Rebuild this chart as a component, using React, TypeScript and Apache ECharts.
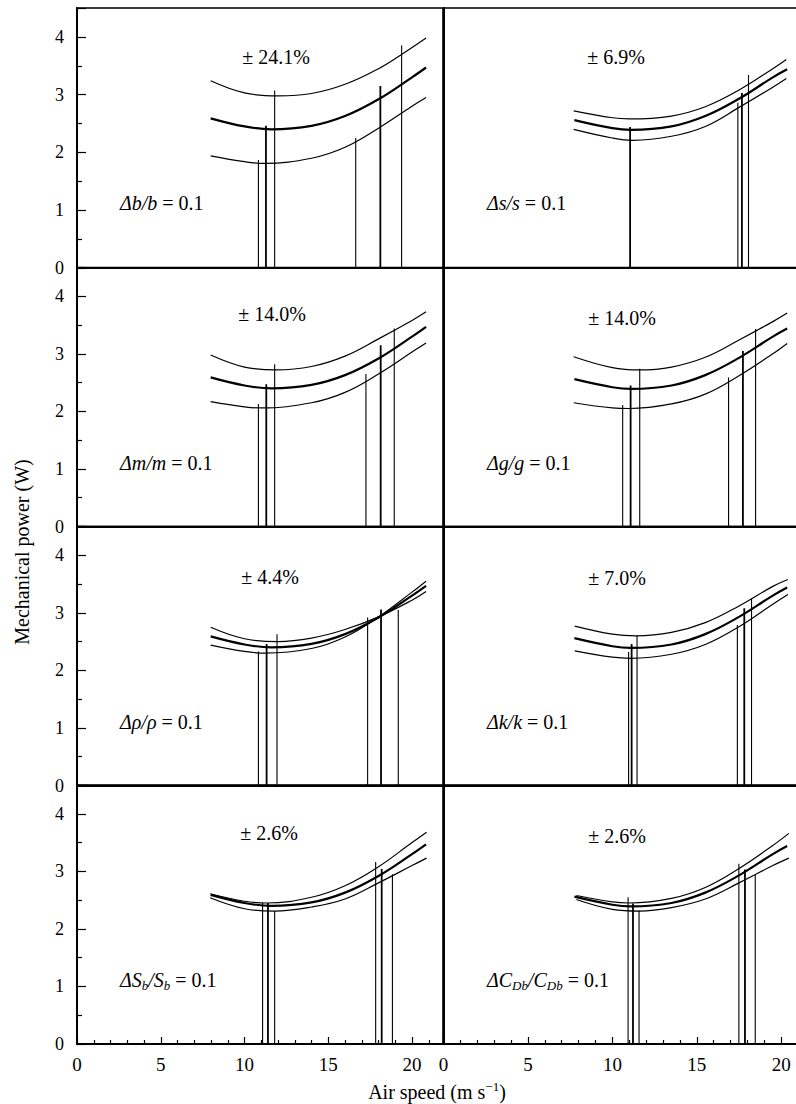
import React, { useEffect, useRef } from 'react';
import * as echarts from 'echarts';

const FONT = 'Liberation Serif';

// ---- data ----
const leftMiddle = [[7.98, 2.59], [10, 2.45], [11.6, 2.40], [14, 2.46], [16, 2.63], [18, 2.92], [20, 3.30], [20.84, 3.47]];
const rightMiddle = [[7.75, 2.56], [10, 2.42], [11.1, 2.39], [13.5, 2.45], [15.5, 2.63], [17.5, 2.93], [19.5, 3.30], [20.35, 3.44]];

// Δb/b
const p1Upper = [[7.98, 3.24], [10, 3.03], [12, 2.98], [14, 3.02], [16, 3.18], [18, 3.45], [19.4, 3.70], [20.84, 3.98]];
const p1Lower = [[7.98, 1.94], [10, 1.84], [11.2, 1.81], [14, 1.90], [16, 2.09], [18, 2.42], [20, 2.80], [20.84, 2.95]];
const p1Min = [[10.83, 1.87], [11.28, 2.46], [11.8, 3.07]];
const p1Range = [[16.64, 2.25], [18.11, 3.15], [19.38, 3.85]];
// Δs/s
const p2Upper = [[7.71, 2.72], [10, 2.60], [11.0, 2.58], [13.5, 2.63], [15.5, 2.79], [17.5, 3.08], [19.5, 3.45], [20.3, 3.61]];
const p2Lower = [[7.71, 2.40], [10, 2.25], [11.2, 2.21], [13.5, 2.28], [15.5, 2.45], [17.5, 2.78], [19.5, 3.13], [20.3, 3.28]];
const p2Min = [[11.05, 2.44]];
const p2Range = [[17.43, 2.86], [17.67, 3.03], [18.06, 3.34]];
// Δm/m
const p3Upper = [[7.98, 2.98], [10, 2.77], [11.9, 2.72], [14, 2.78], [16, 2.96], [18, 3.26], [20, 3.58], [20.84, 3.73]];
const p3Lower = [[7.98, 2.17], [10, 2.08], [11.0, 2.06], [14, 2.15], [16, 2.33], [18, 2.65], [20, 3.03], [20.84, 3.19]];
const p3Min = [[10.83, 2.13], [11.3, 2.47], [11.8, 2.82]];
const p3Range = [[17.25, 2.65], [18.13, 3.15], [18.94, 3.44]];
// Δg/g
const p4Upper = [[7.71, 2.95], [10, 2.76], [11.6, 2.72], [13.5, 2.77], [15.5, 2.94], [17.5, 3.24], [19.5, 3.56], [20.35, 3.71]];
const p4Lower = [[7.71, 2.15], [10, 2.06], [11.0, 2.05], [13.5, 2.13], [15.5, 2.30], [17.5, 2.62], [19.5, 3.00], [20.35, 3.18]];
const p4Min = [[10.61, 2.11], [11.08, 2.45], [11.62, 2.74]];
const p4Range = [[16.88, 2.59], [17.73, 3.05], [18.48, 3.43]];
// Δρ/ρ
const p5Upper = [[7.98, 2.75], [10, 2.55], [12, 2.50], [14, 2.56], [16, 2.71], [18, 2.93], [20, 3.22], [20.84, 3.37]];
const p5Lower = [[7.98, 2.44], [10, 2.33], [11.2, 2.30], [14, 2.38], [16, 2.58], [18, 2.93], [20, 3.36], [20.84, 3.55]];
const p5Min = [[10.83, 2.33], [11.32, 2.46], [11.94, 2.63]];
const p5Range = [[17.35, 2.92], [18.15, 3.06], [19.18, 3.05]];
// Δk/k
const p6Upper = [[7.77, 2.77], [10, 2.63], [11.4, 2.60], [13.5, 2.66], [15.5, 2.83], [17.5, 3.12], [19.5, 3.46], [20.39, 3.58]];
const p6Lower = [[7.77, 2.34], [10, 2.23], [11.1, 2.21], [13.5, 2.28], [15.5, 2.45], [17.5, 2.76], [19.5, 3.15], [20.39, 3.32]];
const p6Min = [[10.96, 2.32], [11.14, 2.46], [11.46, 2.60]];
const p6Range = [[17.4, 2.79], [17.81, 3.08], [18.24, 3.25]];
// ΔSb/Sb
const p7Upper = [[7.95, 2.61], [10, 2.48], [11.3, 2.45], [14, 2.55], [16, 2.75], [18, 3.08], [20, 3.50], [20.87, 3.68]];
const p7Lower = [[7.95, 2.54], [10, 2.35], [11.8, 2.31], [14, 2.38], [16, 2.52], [18, 2.80], [20, 3.10], [20.87, 3.23]];
const p7Min = [[11.08, 2.45], [11.4, 2.45], [11.8, 2.31]];
const p7Range = [[17.83, 3.16], [18.19, 3.04], [18.83, 2.95]];
// ΔCDb/CDb
const p8Upper = [[7.87, 2.58], [10, 2.47], [11.0, 2.45], [13.5, 2.53], [15.5, 2.72], [17.5, 3.05], [19.5, 3.45], [20.45, 3.66]];
const p8Lower = [[7.87, 2.51], [10, 2.34], [11.6, 2.31], [13.5, 2.37], [15.5, 2.52], [17.5, 2.80], [19.5, 3.10], [20.45, 3.23]];
const p8Min = [[10.93, 2.55], [11.22, 2.44], [11.58, 2.32]];
const p8Range = [[17.49, 3.13], [17.85, 3.03], [18.46, 2.94]];

const pctLabels = ['± 24.1%', '± 6.9%', '± 14.0%', '± 14.0%', '± 4.4%', '± 7.0%', '± 2.6%', '± 2.6%'];
const paramLabels = [
  '{i|Δb/b}{n| = 0.1}',
  '{i|Δs/s}{n| = 0.1}',
  '{i|Δm/m}{n| = 0.1}',
  '{i|Δg/g}{n| = 0.1}',
  '{i|Δρ/ρ}{n| = 0.1}',
  '{i|Δk/k}{n| = 0.1}',
  '{i|ΔS}{s|b}{i|/S}{s|b}{n| = 0.1}',
  '{i|ΔC}{s|Db}{i|/C}{s|Db}{n| = 0.1}',
];
const xAxisTitle = '{n|Air speed (m s}{p|−1}{n|)}';
const yAxisTitle = 'Mechanical power (W)';

const panels = [
  { upper: p1Upper, middle: leftMiddle, lower: p1Lower, minLines: p1Min, rangeLines: p1Range },
  { upper: p2Upper, middle: rightMiddle, lower: p2Lower, minLines: p2Min, rangeLines: p2Range },
  { upper: p3Upper, middle: leftMiddle, lower: p3Lower, minLines: p3Min, rangeLines: p3Range },
  { upper: p4Upper, middle: rightMiddle, lower: p4Lower, minLines: p4Min, rangeLines: p4Range },
  { upper: p5Upper, middle: leftMiddle, lower: p5Lower, minLines: p5Min, rangeLines: p5Range },
  { upper: p6Upper, middle: rightMiddle, lower: p6Lower, minLines: p6Min, rangeLines: p6Range },
  { upper: p7Upper, middle: leftMiddle, lower: p7Lower, minLines: p7Min, rangeLines: p7Range },
  { upper: p8Upper, middle: rightMiddle, lower: p8Lower, minLines: p8Min, rangeLines: p8Range },
];

// ---- layout ----
const rowTops = [8, 267.5, 526.5, 785];
const rowHeights = [260, 259, 259, 259];
const colLefts = [77, 443.5];
const colWidths = [366, 369];
const pctPos = [[276, 49], [616, 49], [272, 46], [622, 50], [270, 50], [617, 51], [269, 48], [617, 51]];
const paramLeft = [120, 487];
const paramDy = 195;

function buildOption() {
  const grid: any[] = [];
  const xAxis: any[] = [];
  const yAxis: any[] = [];
  const series: any[] = [];
  const graphic: any[] = [];

  panels.forEach((pn, p) => {
    const row = Math.floor(p / 2);
    const col = p % 2;
    const bottomRow = row === 3;
    grid.push({
      left: colLefts[col], top: rowTops[row], width: colWidths[col], height: rowHeights[row],
      show: true, borderColor: '#000', borderWidth: 1.5, backgroundColor: 'transparent',
      containLabel: false, outerBoundsMode: 'none',
    });
    xAxis.push({
      gridIndex: p, type: 'value', min: 0, max: 21.85, interval: 5,
      axisLine: { show: true, onZero: false, lineStyle: { color: '#000', width: 2 } },
      axisTick: { show: bottomRow, inside: true, length: 7, lineStyle: { color: '#000', width: 1.2 } },
      minorTick: { show: bottomRow, splitNumber: 5, length: 4, lineStyle: { color: '#000', width: 1.2 } },
      axisLabel: { show: bottomRow, showMaxLabel: false, margin: 11, color: '#000', fontFamily: FONT, fontSize: 19 },
      splitLine: { show: false }, minorSplitLine: { show: false },
    });
    yAxis.push({
      gridIndex: p, type: 'value', min: 0, max: 4.5, interval: 1,
      axisLine: { show: true, onZero: false, lineStyle: { color: '#000', width: 2 } },
      axisTick: { show: col === 0, inside: true, length: 9, lineStyle: { color: '#000', width: 1.2 } },
      minorTick: { show: col === 0, splitNumber: 2, length: 5, lineStyle: { color: '#000', width: 1.2 } },
      axisLabel: { show: col === 0, showMaxLabel: false, margin: 13, color: '#000', fontFamily: FONT, fontSize: 18 },
      splitLine: { show: false }, minorSplitLine: { show: false },
    });
    const curves = [[pn.upper, 1.2], [pn.middle, 2.2], [pn.lower, 1.2]];
    curves.forEach(([data, w]) => {
      series.push({
        type: 'line', xAxisIndex: p, yAxisIndex: p, data, smooth: 0.4,
        symbol: 'none', showSymbol: false, silent: true,
        lineStyle: { color: '#000', width: w },
      });
    });
    [pn.minLines, pn.rangeLines].forEach((lines) => {
      lines.forEach((ln, i) => {
        const thick = i === 1 || lines.length === 1;
        series.push({
          type: 'line', xAxisIndex: p, yAxisIndex: p,
          data: [[ln[0], 0], [ln[0], ln[1]]],
          symbol: 'none', showSymbol: false, silent: true,
          lineStyle: { color: '#000', width: thick ? 1.8 : 1.1 },
        });
      });
    });
    graphic.push({
      type: 'text', x: pctPos[p][0], y: rowTops[row] + pctPos[p][1],
      style: {
        text: pctLabels[p], fill: '#000', fontFamily: FONT, fontSize: 20,
        align: 'center', verticalAlign: 'middle', textAlign: 'center', textVerticalAlign: 'middle',
      },
    });
    graphic.push({
      type: 'text', x: paramLeft[col], y: rowTops[row] + paramDy,
      style: {
        text: paramLabels[p], fill: '#000',
        align: 'left', verticalAlign: 'middle', textAlign: 'left', textVerticalAlign: 'middle',
        rich: {
          i: { fontFamily: FONT, fontSize: 20, fontStyle: 'italic', lineHeight: 24, fill: '#000' },
          n: { fontFamily: FONT, fontSize: 20, lineHeight: 24, fill: '#000' },
          s: { fontFamily: FONT, fontSize: 13, fontStyle: 'italic', lineHeight: 13, verticalAlign: 'bottom', fill: '#000' },
        },
      },
    });
  });

  graphic.push({
    type: 'text', x: 437, y: 1092,
    style: {
      text: xAxisTitle, fill: '#000',
      align: 'center', verticalAlign: 'middle', textAlign: 'center', textVerticalAlign: 'middle',
      rich: {
        n: { fontFamily: FONT, fontSize: 20, lineHeight: 24, fill: '#000' },
        p: { fontFamily: FONT, fontSize: 13, lineHeight: 12, verticalAlign: 'top', fill: '#000' },
      },
    },
  });
  graphic.push({
    type: 'text', x: 22, y: 552, rotation: Math.PI / 2,
    style: {
      text: yAxisTitle, fill: '#000', fontFamily: FONT, fontSize: 20,
      align: 'center', verticalAlign: 'middle', textAlign: 'center', textVerticalAlign: 'middle',
    },
  });

  return { animation: false, backgroundColor: '#fff', grid, xAxis, yAxis, series, graphic };
}

export default function App() {
  const ref = useRef<HTMLDivElement>(null);
  useEffect(() => {
    if (!ref.current) return;
    const chart = echarts.init(ref.current, undefined, { renderer: 'svg' });
    chart.setOption(buildOption() as any);
    return () => chart.dispose();
  }, []);
  return (
    <div style={{ position: 'absolute', left: 0, top: 0, width: 796, height: 1104, overflow: 'hidden', background: '#fff' }}>
      <div ref={ref} style={{ width: 796, height: 1104 }} />
    </div>
  );
}
